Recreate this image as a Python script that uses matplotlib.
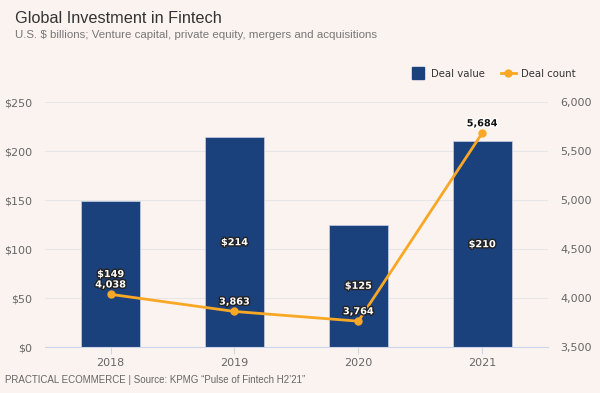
import matplotlib.pyplot as plt
import matplotlib.patheffects as pe
from matplotlib.lines import Line2D

# data
years = ['2018', '2019', '2020', '2021']
deal_value = [149, 214, 125, 210]
deal_count = [4038, 3863, 3764, 5684]

bg = '#FBF3F0'
bar_color = '#1B417C'
line_color = '#F9A825'
grid_color = '#E6E6E6'
tick_color = '#666666'

fig = plt.figure(figsize=(6, 3.93), dpi=100, facecolor=bg)
ax = fig.add_axes([0.075, 0.117, 0.838, 0.623], facecolor=bg)
ax2 = ax.twinx()

x = range(len(years))
ax.bar(x, deal_value, width=0.477, color=bar_color, edgecolor='#C8D2E4',
       linewidth=0.5, zorder=2)
ax.set_xlim(-0.53, 3.53)
ax.set_ylim(0, 250)
ax.set_yticks(range(0, 251, 50))
ax.set_yticklabels(['$%d' % v for v in range(0, 251, 50)])
ax.set_xticks(list(x))
ax.set_xticklabels(years)
ax.grid(axis='y', color=grid_color, linewidth=0.8, zorder=0)
ax.set_axisbelow(True)

ax2.plot(x, deal_count, color=line_color, linewidth=2, marker='o',
         markersize=5, zorder=3)
ax2.set_ylim(3500, 6000)
ax2.set_yticks(range(3500, 6001, 500))
ax2.set_yticklabels(['{:,}'.format(v) for v in range(3500, 6001, 500)])

for a in (ax, ax2):
    for s in a.spines.values():
        s.set_visible(False)
    a.tick_params(axis='y', length=0, labelcolor=tick_color, labelsize=8)
ax.spines['bottom'].set_visible(True)
ax.spines['bottom'].set_color('#CCD6EB')
ax.tick_params(axis='x', length=5, color='#CCD6EB', labelcolor=tick_color,
               labelsize=8, pad=3)
ax.tick_params(axis='y', pad=9)
ax2.tick_params(axis='y', pad=9)

# bar labels
for i, v in enumerate(deal_value):
    ax.text(i, v / 2, '$%d' % v, ha='center', va='center', color='white',
            fontsize=7, fontweight='bold', zorder=5,
            path_effects=[pe.withStroke(linewidth=2, foreground='#222222')])

# line labels
for i, v in enumerate(deal_count):
    inside = v < 3500 + deal_value[i] / 250 * 2500
    fc = 'white' if inside else '#111111'
    sc = '#222222' if inside else 'white'
    ax2.annotate('{:,}'.format(v), (i, v), xytext=(0, 3.5), textcoords='offset points',
                 ha='center', va='bottom', color=fc, fontsize=7, fontweight='bold',
                 zorder=6, path_effects=[pe.withStroke(linewidth=2, foreground=sc)])

# legend
handles = [Line2D([], [], marker='s', color=bar_color, linestyle='none', markersize=8),
           Line2D([], [], marker='o', color=line_color, linewidth=2, markersize=5)]
leg = fig.legend(handles, ['Deal value', 'Deal count'], loc='center right',
                 bbox_to_anchor=(0.975, 0.812), ncol=2, frameon=False, fontsize=7.3,
                 handlelength=1.5, columnspacing=1.6, handletextpad=0.5)
for t in leg.get_texts():
    t.set_color('#333333')

fig.text(0.025, 0.952, 'Global Investment in Fintech', fontsize=11.7,
         family='Liberation Sans', color='#333333', va='center')
fig.text(0.025, 0.912, 'U.S. $ billions; Venture capital, private equity, mergers and acquisitions',
         fontsize=8.25, family='Liberation Sans', color='#777777', va='center')
fig.text(0.008, 0.033, 'PRACTICAL ECOMMERCE | Source: KPMG \u201cPulse of Fintech H2\u201921\u201d',
         fontsize=7, family='Liberation Sans', color='#666666', va='center')

fig.savefig('out.png', dpi=100, facecolor=bg)
